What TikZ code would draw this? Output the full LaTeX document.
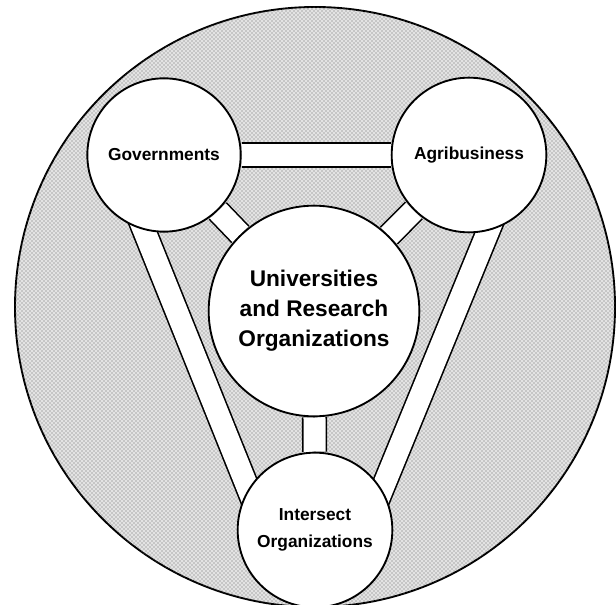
\documentclass[tikz,border=0pt]{standalone}
\usepackage{fontspec}
\setmainfont{Liberation Sans}
\usetikzlibrary{calc,patterns,backgrounds}

\begin{document}
\begin{tikzpicture}[x=0.75pt,y=0.75pt,yscale=-1,xscale=1,
  party/.style={circle, draw=black, line width=1.4pt, fill=white, align=center, inner sep=0pt, font=\bfseries\fontsize{13}{20.5}\selectfont},
  bar/.style={draw=black, line width=1.2pt, double=white, double distance=16.5pt}]
\useasboundingbox (0,0) rectangle (616,605);

%Shape: Circle [Governments]
\node [party, minimum size=115pt] (gov) at (164,155) {Governments};
%Shape: Circle [Agribusiness]
\node [party, minimum size=116pt] (agri) at (469,155) {Agribusiness};
%Shape: Circle [Universities]
\node [party, minimum size=158pt, font=\bfseries\fontsize{17}{22.5}\selectfont] (univ) at (314,311) {Universities\\and Research\\Organizations};
%Shape: Circle [Intersect]
\node [party, minimum size=116pt] (inter) at (315,530) {Intersect\\Organizations};

\begin{pgfonlayer}{background}
%Shape: Circle [stippled ground]
\draw [line width=1.4pt, fill=gray!22, postaction={pattern=crosshatch dots, pattern color=black!60}] (315,307) circle [radius=225pt];
%Straight Lines [bars between centres]
\draw [bar] (gov) -- (agri);
\draw [bar] (gov) -- (univ);
\draw [bar] (agri) -- (univ);
\draw [bar] (univ) -- (inter);
%Straight Lines [outer bars]
\draw [bar] ($(gov)!35pt!90:(inter)$) -- ($(inter)!35pt!-90:(gov)$);
\draw [bar] ($(agri)!35pt!-90:(inter)$) -- ($(inter)!35pt!90:(agri)$);
\end{pgfonlayer}

\end{tikzpicture}
\end{document}
